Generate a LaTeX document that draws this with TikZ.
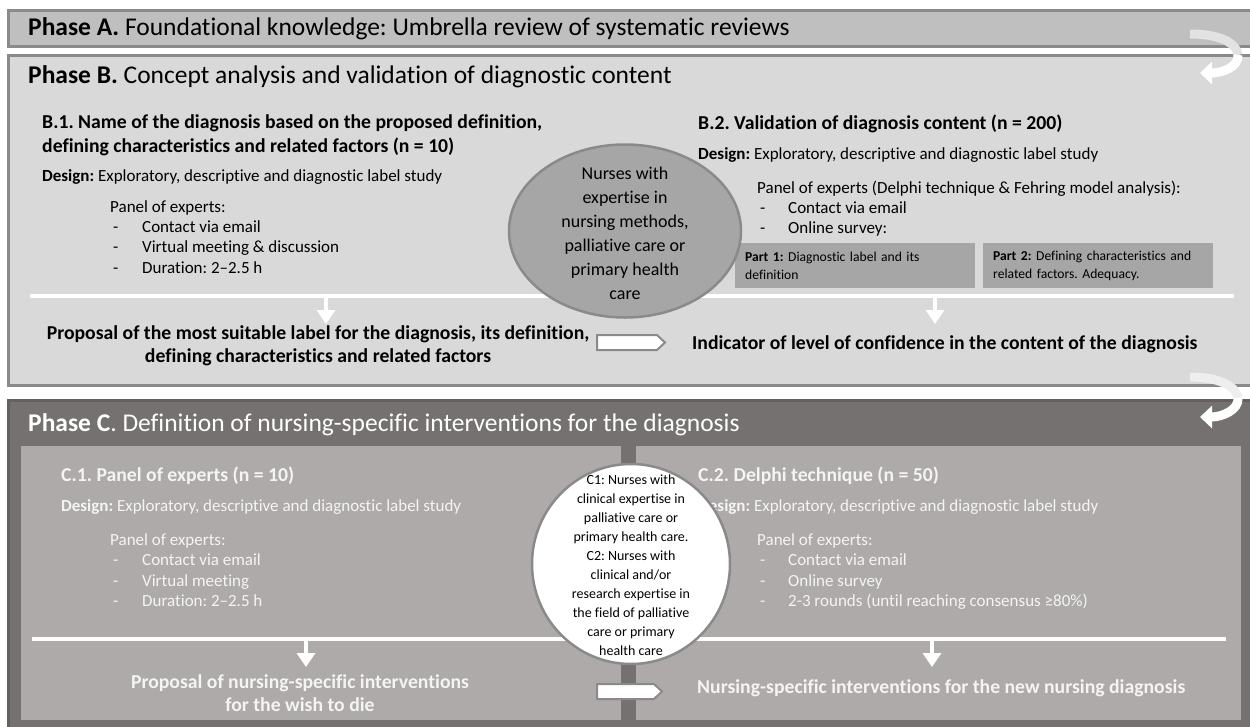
\documentclass[tikz,border=0pt]{standalone}
\usepackage{fontspec}
\setmainfont{Carlito}[Ligatures=NoCommon]
\usetikzlibrary{arrows.meta,shapes.geometric}
\definecolor{phA}{HTML}{BFBFBF}
\definecolor{phB}{HTML}{D9D9D9}
\definecolor{phC}{HTML}{767171}
\definecolor{inC}{HTML}{AEAAAA}
\definecolor{edge}{HTML}{8A8A8A}
\definecolor{midg}{HTML}{A6A6A6}
\definecolor{ctext}{HTML}{F4F4F4}
\tikzset{
  phtitle/.style={font=\fontsize{25.5}{30}\selectfont, anchor=west, inner sep=0pt, text height=0.7em, text depth=0.2em},
  head/.style={font=\fontsize{19.7}{24}\selectfont\bfseries, anchor=west, inner sep=0pt, align=left},
  body/.style={font=\fontsize{17}{20}\selectfont, anchor=west, inner sep=0pt, text height=0.7em, text depth=0.2em},
  outc/.style={font=\fontsize{19.7}{23}\selectfont\bfseries, inner sep=0pt, align=center},
  wline/.style={white, line width=4},
  darrow/.style={white, line width=4, -{Triangle[width=18pt,length=14pt]}},
  blockarrow/.style={fill=white, draw=edge, line width=2, line join=miter},
  partbox/.style={fill=midg, anchor=north west, inner xsep=10pt, inner ysep=0pt, minimum height=45pt, align=left, font=\fontsize{13.6}{17.5}\selectfont},
  curl/.style={white, line width=9, line cap=butt},
}
\frenchspacing
\begin{document}
\begin{tikzpicture}[x=1pt,y=-1pt]
\useasboundingbox (0,0) rectangle (1250,726);
\clip (0,0) rectangle (1250,726);

% ---------------- Phase A
\draw[fill=phA, draw=edge, line width=3] (8,10) rectangle (1265,46);
\node[phtitle] (tA) at (28,33) {\textbf{Phase A.} Foundational knowledge: Umbrella review of systematic reviews};

% ---------------- Phase B
\draw[fill=phB, draw=edge, line width=3] (8,55) rectangle (1265,385);
\node[phtitle] (tB) at (28,81) {\textbf{Phase B.} Concept analysis and validation of diagnostic content};

% B.1
\node[head] (b1h) at (42,135) {B.1. Name of the diagnosis based on the proposed definition,\\defining characteristics and related factors (n = 10)};
\node[body] (b1d) at (42,179) {\textbf{Design:} Exploratory, descriptive and diagnostic label study};
\node[body] (b1p) at (110,210) {Panel of experts:};
\node[body] (b1i1d) at (113,230) {-};
\node[body] (b1i1) at (142,230) {Contact via email};
\node[body] (b1i2d) at (113,250) {-};
\node[body] (b1i2) at (142,250) {Virtual meeting \& discussion};
\node[body] (b1i3d) at (113,271) {-};
\node[body] (b1i3) at (142,271) {Duration: 2–2.5 h};

% B.2
\node[head] (b2h) at (698,124) {B.2. Validation of diagnosis content (n = 200)};
\node[body] (b2d) at (698,157) {\textbf{Design:} Exploratory, descriptive and diagnostic label study};
\node[body] (b2p) at (757,191) {Panel of experts (Delphi technique \& Fehring model analysis):};
\node[body] (b2i1d) at (760,211) {-};
\node[body] (b2i1) at (788,211) {Contact via email};
\node[body] (b2i2d) at (760,231) {-};
\node[body] (b2i2) at (788,231) {Online survey:};
\node[partbox, text width=220pt] (p1) at (735,243) {\textbf{Part 1:} Diagnostic label and its\\definition};
\node[partbox, text width=210pt] (p2) at (983,243) {\textbf{Part 2:} Defining characteristics and\\related factors. Adequacy.};

% white line B
\coordinate (bl) at (30,296);
\coordinate (br) at (1234,296);
\draw[wline] (bl) -- (br);

% ellipse B
\node[ellipse, fill=midg, draw=edge, line width=2.5, minimum width=232pt, minimum height=173pt, inner sep=0pt] (eB) at (625,231) {};
\node[align=center, inner sep=0pt, font=\fontsize{18}{24}\selectfont] (eBt) at ([yshift=-2pt]eB.center)
  {Nurses with\\expertise in\\nursing methods,\\palliative care or\\primary health\\care};

% outcomes B
\coordinate (ba1) at (326,297);
\coordinate (ba2) at (326,324);
\draw[darrow] (ba1) -- (ba2);
\coordinate (bb1) at (935,297);
\coordinate (bb2) at (935,324);
\draw[darrow] (bb1) -- (bb2);
\node[outc] (bo1) at (318,346) {Proposal of the most suitable label for the diagnosis, its definition,\\defining characteristics and related factors};
\node[outc, anchor=west] (bo2) at (692,344) {Indicator of level of confidence in the content of the diagnosis};
\draw[blockarrow] (597,335) -- (657,335) -- (665,342.5) -- (657,350) -- (597,350) -- cycle;

% curl arrow A -> B
\draw[curl, white!55!phA] (1190,34) .. controls (1222,34) and (1237,44) .. (1238,55);
\draw[curl, -{Triangle[width=22pt,length=12pt]}] (1238,55) .. controls (1239,67) and (1222,73) .. (1200,73);

% ---------------- Phase C
\draw[fill=phC, draw=phC!85!black, line width=3] (8,400) rectangle (1265,735);
\node[phtitle, text=white] (tC) at (28,429) {\textbf{Phase C}. Definition of nursing-specific interventions for the diagnosis};

\fill[inC] (21,446) rectangle (621,720);
\fill[inC] (636,446) rectangle (1241,720);

% C.1
\node[head, text=ctext] (c1h) at (61,476) {C.1. Panel of experts (n = 10)};
\node[body, text=ctext] (c1d) at (61,509) {\textbf{Design:} Exploratory, descriptive and diagnostic label study};
\node[body, text=ctext] (c1p) at (110,543) {Panel of experts:};
\node[body, text=ctext] (c1i1d) at (113,563) {-};
\node[body, text=ctext] (c1i1) at (142,563) {Contact via email};
\node[body, text=ctext] (c1i2d) at (113,584) {-};
\node[body, text=ctext] (c1i2) at (142,584) {Virtual meeting};
\node[body, text=ctext] (c1i3d) at (113,604) {-};
\node[body, text=ctext] (c1i3) at (142,604) {Duration: 2–2.5 h};

% C.2
\node[head, text=ctext] (c2h) at (698,476) {C.2. Delphi technique (n = 50)};
\node[body, text=ctext] (c2d) at (698,509) {\textbf{Design:} Exploratory, descriptive and diagnostic label study};
\node[body, text=ctext] (c2p) at (757,543) {Panel of experts:};
\node[body, text=ctext] (c2i1d) at (760,563) {-};
\node[body, text=ctext] (c2i1) at (788,563) {Contact via email};
\node[body, text=ctext] (c2i2d) at (760,584) {-};
\node[body, text=ctext] (c2i2) at (788,584) {Online survey};
\node[body, text=ctext] (c2i3d) at (760,604) {-};
\node[body, text=ctext] (c2i3) at (788,604) {2-3 rounds (until reaching consensus ≥80\%)};

% white line C
\coordinate (cl) at (32,639);
\coordinate (cr) at (1226,639);
\draw[wline] (cl) -- (cr);

% circle C
\node[ellipse, fill=white, draw=edge, line width=2.5, minimum width=198pt, minimum height=200pt, inner sep=0pt] (eC) at (631,564) {};
\node[align=center, inner sep=0pt, font=\fontsize{14}{19}\selectfont] (eCt) at ([yshift=-1pt]eC.center)
  {C1: Nurses with\\clinical expertise in\\palliative care or\\primary health care.\\C2: Nurses with\\clinical and/or\\research expertise in\\the field of palliative\\care or primary\\health care};

% outcomes C
\coordinate (ca1) at (306,640);
\coordinate (ca2) at (306,667);
\draw[darrow] (ca1) -- (ca2);
\coordinate (cb1) at (932,640);
\coordinate (cb2) at (932,667);
\draw[darrow] (cb1) -- (cb2);
\node[outc, text=ctext] (co1) at (300,693) {Proposal of nursing-specific interventions\\for the wish to die};
\node[outc, text=ctext, anchor=west] (co2) at (697,688) {Nursing-specific interventions for the new nursing diagnosis};
\draw[blockarrow] (597,684) -- (654,684) -- (662,691.5) -- (654,699) -- (597,699) -- cycle;

% curl arrow B -> C
\draw[curl, white!55!phB] (1190,377) .. controls (1222,377) and (1237,388) .. (1238,398);
\draw[curl, -{Triangle[width=22pt,length=12pt]}] (1238,398) .. controls (1239,410) and (1222,417) .. (1200,417);
\end{tikzpicture}
\end{document}
